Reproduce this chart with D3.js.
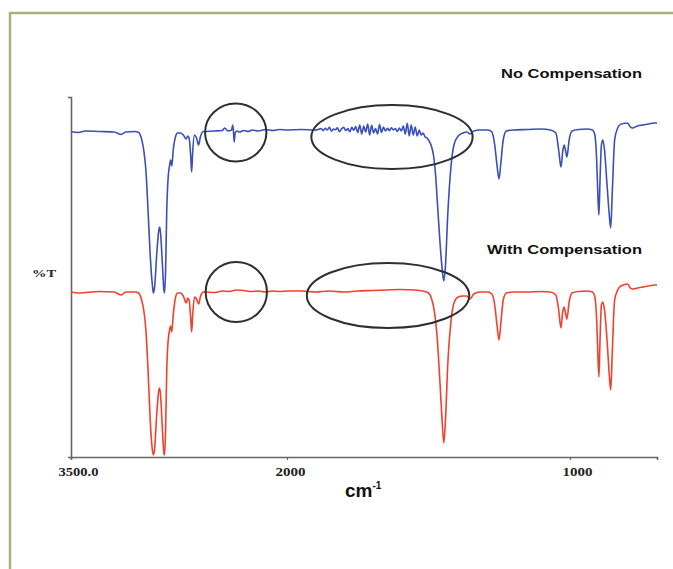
<!DOCTYPE html>
<html>
<head>
<meta charset="utf-8">
<script src="https://cdn.jsdelivr.net/npm/d3@7"></script>
<style>
  html, body { margin: 0; padding: 0; background: #fff; }
  svg { display: block; }
</style>
</head>
<body>
<svg id="chart" width="673" height="569"></svg>
<script>
// ---- Data (wavenumber in cm-1, transmittance in stacked %T units) ----
const xTickValues = [3500, 2000, 1000];
const xTickLabels = ["3500.0", "2000", "1000"];
const seriesNames = ["No Compensation", "With Compensation"];
const seriesColors = ["#3b4fb8", "#f2402c"];

const wnRed = [3500,3450,3300,3200,3151,3120,3060,3030,3010,2995,2980,2965,2950,2935,2928,2920,2905,2890,2884,2878,2865,2855,2850,2843,2835,2825,2815,2808,2800,2790,2775,2760,2740,2720,2700,2690,2680,2668,2662,2655,2642,2628,2614,2600,2580,2500,2450,2400,2350,2300,2250,2200,2150,2100,2050,2000,1950,1900,1850,1800,1750,1700,1650,1600,1550,1520,1500,1490,1480,1470,1460,1452,1446,1440,1432,1420,1410,1395,1378,1365,1353,1340,1318,1290,1276,1266,1258,1251,1244,1236,1225,1200,1150,1100,1070,1050,1040,1032,1026,1021,1016,1011,1003,993,970,940,920,912,905,900,897,893,888,883,877,868,860,855,849,841,830,823,810,795,785,777,760,740,720,700,690];
const tRed = [82.5,82,82.75,82.5,81,82.5,82.5,82,78.5,73.5,63.5,43.5,18.5,3.5,1,3.5,21,33.5,34.5,31,13.5,2,1,13.5,43.5,58.5,63.5,65.5,62.5,71,79.5,82,82,80.5,77,79.5,78.5,68.5,62.5,71,80,79,76.5,80.5,82.5,82.25,83,82.75,83.5,83.25,82.75,83,82.5,83,82.75,83,83,82.5,83,82.5,83,83.25,83.5,83.75,83.5,83,82,79.5,73.5,61,38.5,18.5,7,18.5,46,68.5,77,80,80.5,80.5,79,81.5,82.5,82.5,81.5,76,66,58.5,67.5,78.5,82,82.5,82.5,82.75,82.5,81,73.5,64.5,72.5,75,72,69,77.5,82,82.75,83,82.5,80.5,68.5,48.5,40,58.5,76,77.5,73.5,58.5,41,33.5,53.5,78.5,83.5,85,86,86.5,84.5,84,84.5,85,85.5,86,86];

const wnBlue = [3500,3450,3400,3300,3200,3151,3120,3060,3030,3010,2995,2980,2965,2950,2935,2928,2920,2905,2890,2884,2878,2865,2855,2850,2843,2835,2825,2815,2808,2800,2790,2775,2760,2740,2720,2700,2690,2680,2668,2662,2655,2642,2628,2614,2600,2580,2500,2450,2433,2410,2385,2377,2372,2367,2360,2350,2330,2300,2270,2240,2200,2150,2100,2050,2000,1950,1900,1885,
 1880,1872,1865,1858,1850,1843,1836,1829,1822,1815,1808,1800,1792,1785,1778,1771,1764,1757,1750,1743,1736,1729,1722,1715,1708,1701,1694,1687,1680,1673,1666,1659,1652,1645,1638,1631,1624,1617,1610,1603,1596,1589,1582,1575,1568,1561,1554,1547,1540,1533,1526,1519,1512,1505,1498,1490,1482,1475,1468,1460,1452,1446,1440,1432,1420,1410,1395,1378,1365,1353,1340,1318,1290,1276,1266,1258,1251,1244,1236,1225,1200,1150,1100,1070,1050,1040,1032,1026,1021,1016,1011,1003,993,970,940,920,912,905,900,897,893,888,883,877,868,860,855,849,841,830,823,810,795,785,777,760,740,720,700,690];
const tBlue = [162.6,162.25,163,162.75,162.5,161.25,162.5,162.75,162.25,159,153.5,143.5,123.5,101,86,82,84.5,101,113.5,115,112,96,83.5,82,93.5,123.5,140,146,148.5,145.5,153.5,160,162,162,161,159,160.5,159.5,149.5,142.5,152.5,161,159.5,156,160.5,162.75,163,163.25,164.5,163,163.5,166,163,157.5,162,163,162.5,163.25,162.75,163.5,163,163.75,163.25,163.75,163.5,163.75,163.5,164,
 164.25,163.2,164.4,163.5,164.8,162.9,164,163.6,164.6,162.7,163.9,164.9,163.1,164.2,162.6,164.8,163.4,165.2,162.2,166,161.5,165.5,162.5,166.5,161,165.8,162,164.2,161.5,166.2,162.3,165,163,164.3,163.2,164.6,163.5,164.2,162.8,164.5,163,165.5,161.5,166.8,160.5,166,161,165,160.5,163.5,161,162,160,159.5,158,155.5,150.5,141,126,108.5,94.5,88,96,121,146,156,160.5,162,162.5,161.5,163,163.5,163.5,162.5,156,146,139,147.5,158.5,163,163.5,163.75,164,163.5,162,153.5,145,152.5,156,153.5,150,158.5,163,163.75,164,163.5,161.5,148.5,128.5,121,138.5,156,158.5,153.5,136,121,114.5,133.5,158.5,164.5,166,166.75,167,165,164.5,165.5,166,166.5,167,167];

// Highlight annotations (centre wavenumber, centre value, radii in data units)
const marksWn = [2356, 1629, 2352, 1643];
const marksT = [162.25, 160, 82.5, 80.75];
const marksRxWn = [213, 285, 213, 287];
const marksRyT = [14.5, 16, 15, 16.25];

// ---- Layout ----
const svg = d3.select("#chart");
const x = d3.scaleLinear().domain([3500, 2000, 1000, 690]).range([71, 287, 570, 657]);
const y = d3.scaleLinear().domain([0, 180]).range([457, 97]);

// frame border
svg.append("path")
  .attr("d", "M10,569 V13 H673")
  .attr("fill", "none")
  .attr("stroke", "#a9b07e")
  .attr("stroke-width", 2.5);

// axes
const xAxis = d3.axisBottom(x)
  .tickValues(xTickValues)
  .tickSize(3)
  .tickSizeOuter(3)
  .tickFormat((d, i) => xTickLabels[i]);
const gx = svg.append("g").attr("transform", `translate(0,${y(0)})`).call(xAxis);
gx.select(".domain").attr("stroke", "#666").attr("stroke-width", 1.6);
gx.selectAll(".tick line").attr("stroke", "#666").attr("stroke-width", 1.2);
gx.selectAll(".tick text")
  .attr("font-family", "'Liberation Serif', 'DejaVu Serif', serif")
  .attr("font-weight", "bold")
  .attr("font-size", 12)
  .attr("fill", "#222")
  .attr("dx", (d, i) => [7, 3, 7][i])
  .attr("dy", 0)
  .attr("y", 19)
  .attr("textLength", (d, i) => [40, 30, 30][i])
  .attr("lengthAdjust", "spacingAndGlyphs");

const yAxis = d3.axisLeft(y).tickValues([]).tickSizeOuter(3);
const gy = svg.append("g").attr("transform", `translate(${x(3500)},0)`).call(yAxis);
gy.select(".domain").attr("stroke", "#666").attr("stroke-width", 1.6);

// spectra
const line = d3.line()
  .x(d => x(d[0]))
  .y(d => y(d[1]))
  .curve(d3.curveMonotoneX);

const series = [
  { wn: wnBlue, t: tBlue, color: seriesColors[0] },
  { wn: wnRed, t: tRed, color: seriesColors[1] }
];
series.forEach(s => {
  svg.append("path")
    .datum(s.wn.map((w, i) => [w, s.t[i]]))
    .attr("fill", "none")
    .attr("stroke", s.color)
    .attr("stroke-width", 1.6)
    .attr("stroke-linejoin", "round")
    .attr("d", line);
});

// annotation ellipses
marksWn.forEach((w, i) => {
  const cx = x(w), cy = y(marksT[i]);
  const rx = Math.abs(x(w + marksRxWn[i]) - cx);
  const ry = Math.abs(y(marksT[i] + marksRyT[i]) - cy);
  svg.append("ellipse")
    .attr("cx", cx).attr("cy", cy).attr("rx", rx).attr("ry", ry)
    .attr("fill", "none").attr("stroke", "#2e2e2e").attr("stroke-width", 2);
});

// series labels
const labelFont = "'Liberation Sans', Arial, sans-serif";
svg.append("text").text(seriesNames[0])
  .attr("x", 501).attr("y", 78)
  .attr("textLength", 141).attr("lengthAdjust", "spacingAndGlyphs")
  .attr("font-family", labelFont).attr("font-weight", "bold").attr("font-size", 13.5)
  .attr("fill", "#111");
svg.append("text").text(seriesNames[1])
  .attr("x", 487).attr("y", 254)
  .attr("textLength", 155).attr("lengthAdjust", "spacingAndGlyphs")
  .attr("font-family", labelFont).attr("font-weight", "bold").attr("font-size", 13.5)
  .attr("fill", "#111");

// axis titles
svg.append("text").text("%T")
  .attr("x", 32).attr("y", 277)
  .attr("textLength", 24).attr("lengthAdjust", "spacingAndGlyphs")
  .attr("font-family", "'Liberation Serif', serif").attr("font-weight", "bold").attr("font-size", 11)
  .attr("fill", "#222");

const xt = svg.append("text")
  .attr("x", 345).attr("y", 497)
  .attr("font-family", labelFont).attr("font-weight", "bold").attr("font-size", 19)
  .attr("fill", "#111");
xt.append("tspan").text("cm");
xt.append("tspan").text("-1").attr("font-size", 10).attr("dy", -8);
</script>
</body>
</html>
